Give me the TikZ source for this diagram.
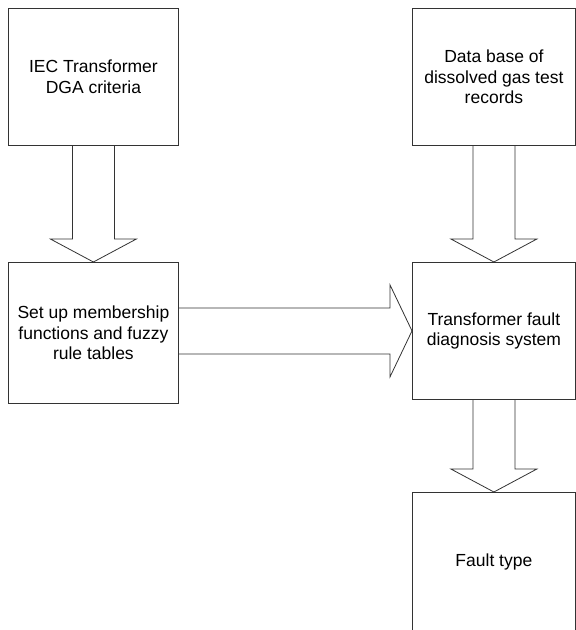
\documentclass[tikz,border=0pt]{standalone}
\usepackage{fontspec}
\setmainfont{Liberation Sans}
\usetikzlibrary{calc}

\tikzset{
  box/.style={draw=black!80, line width=0.8pt, anchor=north west, inner sep=0pt,
    align=center, font=\fontsize{17.5}{20.7}\selectfont},
  blockarrow/.style={draw=black!80, line width=0.8pt, line join=miter},
}

\begin{document}
\begin{tikzpicture}[x=1pt,y=-1pt]
        \useasboundingbox (0,0) rectangle (576,630);
        \clip (0,0) rectangle (576,630);
        % boxes
        \node[box,minimum width=170pt,minimum height=137pt] (dga) at (8,8) {IEC Transformer\\DGA criteria};
        \node[box,minimum width=163pt,minimum height=137pt] (records) at (412,8) {Data base of\\dissolved gas test\\records};
        \node[box,minimum width=170pt,minimum height=141pt] (rules) at (8,262) {Set up membership\\functions and fuzzy\\rule tables};
        \node[box,minimum width=163pt,minimum height=137pt] (system) at (412,262) {Transformer fault\\diagnosis system};
        \node[box,minimum width=163pt,minimum height=140pt] (fault) at (412,492) {Fault type};
        % down arrows
        \foreach \a/\b in {dga/rules,records/system,system/fault}
          \draw[blockarrow] ($(\a.south)+(-21,0)$) -- ($(\b.north)+(-21,-23)$) -- ($(\b.north)+(-43,-23)$)
            -- (\b.north) -- ($(\b.north)+(43,-23)$) -- ($(\b.north)+(21,-23)$) -- ($(\a.south)+(21,0)$);
        % right arrow
        \draw[blockarrow] ($(rules.east|-system.west)+(0,-23)$) -- ($(system.west)+(-22,-23)$) -- ($(system.west)+(-22,-46)$)
            -- (system.west) -- ($(system.west)+(-22,46)$) -- ($(system.west)+(-22,23)$) -- ($(rules.east|-system.west)+(0,23)$);
    \end{tikzpicture}
\end{document}
